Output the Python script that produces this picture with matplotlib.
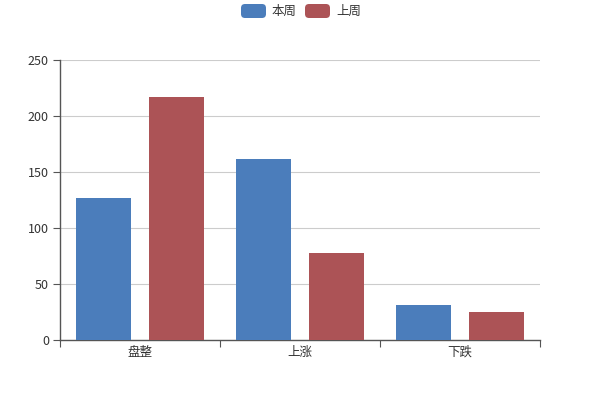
import matplotlib
matplotlib.use("Agg")
import matplotlib.pyplot as plt
from matplotlib.patches import FancyBboxPatch
from matplotlib.transforms import IdentityTransform
import numpy as np

plt.rcParams['font.family'] = ['Noto Sans CJK SC', 'DejaVu Sans']

categories = ['盘整', '上涨', '下跌']
series_names = ['本周', '上周']
this_week = [127, 162, 31]
last_week = [217, 78, 25]
colors = ['#4b7dbb', '#ac5356']
yticks = [0, 50, 100, 150, 200, 250]

fig = plt.figure(figsize=(6, 4), dpi=100)
ax = fig.add_axes([0.1, 0.15, 0.8, 0.7])

x = np.arange(len(categories)) + 0.5
w = 0.344
off = 0.228
ax.bar(x - off, this_week, width=w, color=colors[0], zorder=3)
ax.bar(x + off, last_week, width=w, color=colors[1], zorder=3)

ax.set_xlim(0, len(categories))
ax.set_ylim(0, 250)
ax.set_yticks(yticks)
ax.set_xticks(np.arange(len(categories) + 1))
ax.set_xticklabels([])
ax.set_xticks(x, minor=True)
ax.set_xticklabels(categories, minor=True)
ax.tick_params(axis='x', which='minor', length=0, pad=4, labelsize=9, labelcolor='#333333')
ax.tick_params(axis='x', which='major', length=5, color='#555555', direction='out')
ax.tick_params(axis='y', length=5, color='#555555', labelsize=9, labelcolor='#333333', pad=3)

ax.grid(axis='y', color='#cccccc', linewidth=0.8, zorder=0)
for s in ['top', 'right']:
    ax.spines[s].set_visible(False)
for s in ['left', 'bottom']:
    ax.spines[s].set_color('#555555')
    ax.spines[s].set_linewidth(1)

# legend (pixel coordinates, y from top)
W, H = 600, 400
def box(px, py, color):
    p = FancyBboxPatch((px, H - (py + 14)), 25, 14,
                       boxstyle="round,pad=0,rounding_size=4",
                       transform=IdentityTransform(), facecolor=color, edgecolor='none')
    fig.patches.append(p)

box(241, 4, colors[0])
fig.text(272 / W, 1 - 11 / H, series_names[0], fontsize=9, color='#333333', va='center', ha='left')
box(305, 4, colors[1])
fig.text(336 / W, 1 - 11 / H, series_names[1], fontsize=9, color='#333333', va='center', ha='left')

fig.savefig('out.png', dpi=100)
